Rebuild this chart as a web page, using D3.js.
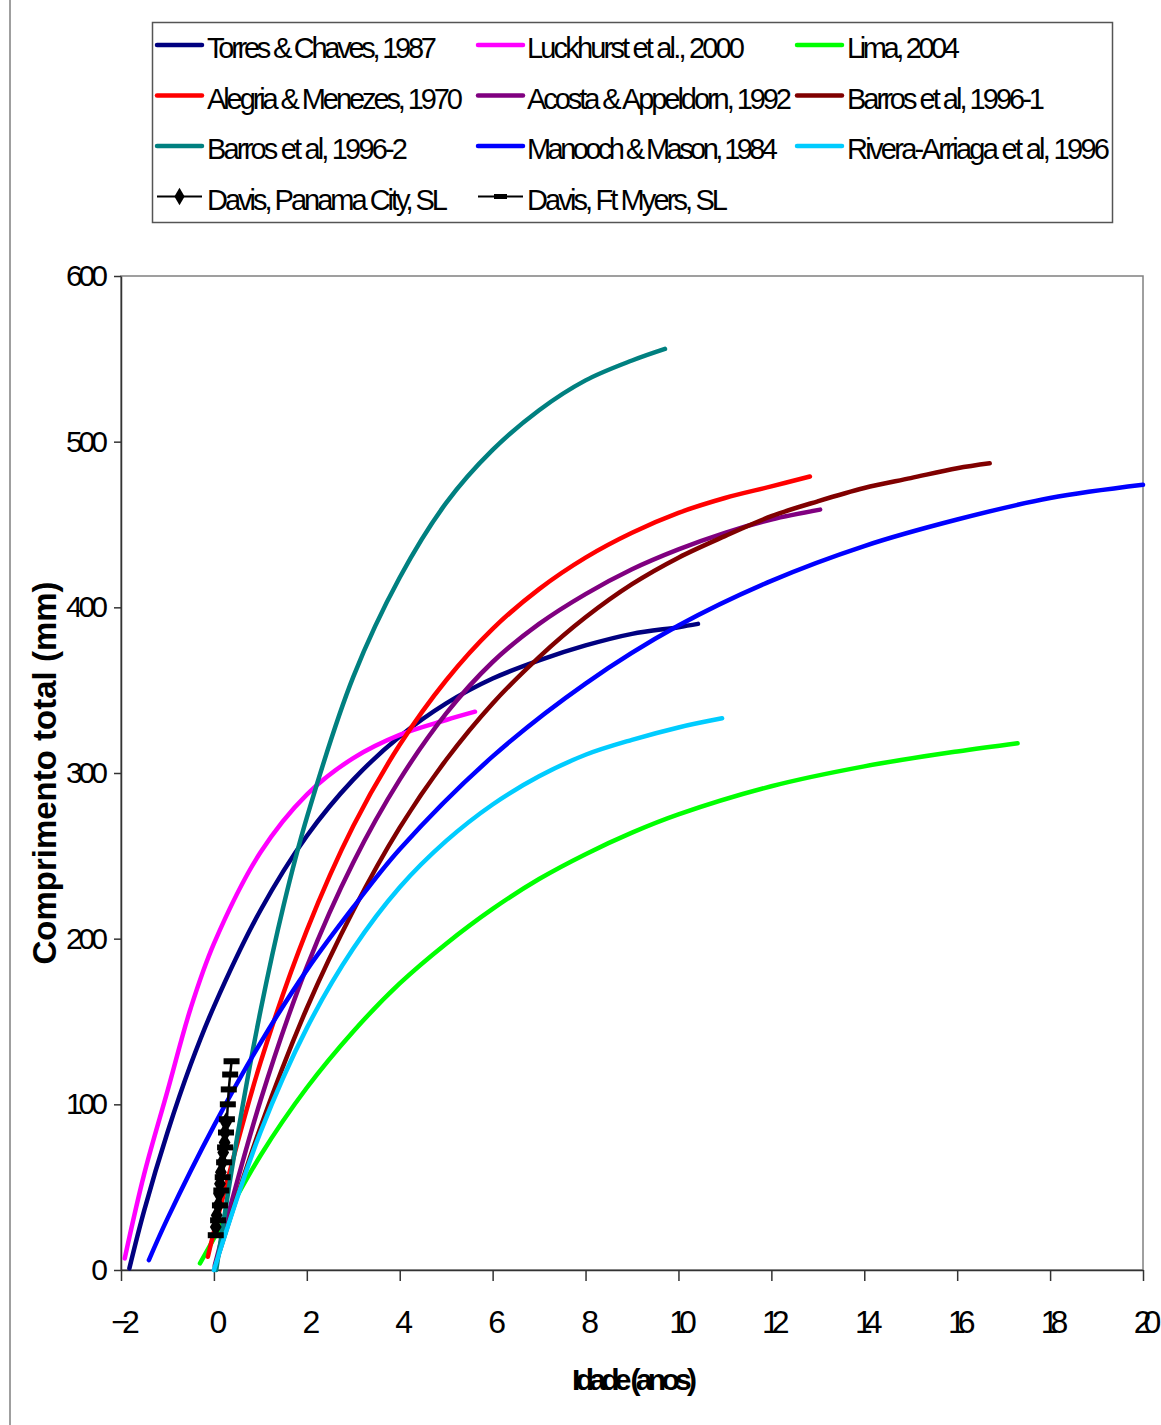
<!DOCTYPE html>
<html>
<head>
<meta charset="utf-8">
<script src="https://cdn.jsdelivr.net/npm/d3@7"></script>
<style>
  body { margin: 0; background: #fff; }
  svg { display: block; font-family: "Liberation Sans", Arial, sans-serif; }
</style>
</head>
<body>
<div id="chart"></div>
<script>
// axis ticks
const xTicks = [-2, 0, 2, 4, 6, 8, 10, 12, 14, 16, 18, 20];
const yTicks = [0, 100, 200, 300, 400, 500, 600];

// legend labels, in legend order (row by row)
const seriesNames = [
  'Torres & Chaves, 1987', 'Luckhurst et al., 2000', 'Lima, 2004',
  'Alegria & Menezes, 1970', 'Acosta & Appeldorn, 1992', 'Barros et al, 1996-1',
  'Barros et al, 1996-2', 'Manooch & Mason, 1984', 'Rivera-Arriaga et al, 1996',
  'Davis, Panama City, SL', 'Davis, Ft Myers, SL'
];
const seriesColors = [
  '#000080', '#FF00FF', '#00FF00',
  '#FF0000', '#800080', '#800000',
  '#008080', '#0000FF', '#00CCFF',
  '#000000', '#000000'
];

// growth curves, [age (anos), comprimento (mm)]
const torresChaves = [[-1.82, 1], [-1.5, 36], [-1, 83], [-0.5, 124], [0, 159], [1, 217], [2, 262], [3, 296], [4, 322], [5, 342], [6, 357], [7, 368], [8, 377], [9, 384], [10, 388], [10.42, 390]];
const luckhurst = [[-1.92, 7], [-1.5, 58], [-1, 108], [-0.5, 158], [0, 197], [1, 252], [2, 287], [3, 309], [4, 323], [5, 332], [5.62, 337]];
const lima = [[-0.3, 4], [0, 19], [1, 69], [2, 110], [3, 144], [4, 173], [5, 197], [6, 218], [7, 236], [8, 251], [9, 264], [10, 275], [12, 292], [14, 304], [16, 313], [17.3, 318]];
const alegriaMenezes = [[-0.13, 8], [0, 23], [1, 125], [2, 205], [3, 268], [4, 317], [5, 356], [6, 387], [7, 411], [8, 430], [9, 445], [10, 457], [11, 466], [12, 473], [12.83, 479]];
const acostaAppeldorn = [[0.02, 3], [1, 102], [2, 183], [3, 246], [4, 296], [5, 336], [6, 367], [7, 390], [8, 408], [9, 423], [10, 435], [11, 445], [12, 453], [13.05, 459]];
const barros1 = [[0.02, 2], [1, 86], [2, 158], [3, 217], [4, 267], [5, 308], [6, 342], [7, 370], [8, 394], [9, 414], [10, 430], [11, 443], [12, 455], [13, 464], [14, 472], [15, 478], [16, 484], [16.7, 487]];
const barros2 = [[0.05, 0], [0.5, 80], [1, 156], [1.5, 220], [2, 273], [3, 358], [4, 418], [5, 463], [6, 495], [7, 519], [8, 537], [9, 549], [9.71, 556]];
const manoochMason = [[-1.4, 6], [-1, 31], [0, 87], [1, 137], [2, 181], [3, 219], [4, 254], [6, 310], [8, 354], [10, 389], [12, 416], [14, 437], [16, 453], [18, 466], [20, 474]];
const riveraArriaga = [[0, 0], [1, 83], [2, 146], [3, 194], [4, 231], [5, 259], [6, 281], [7, 298], [8, 311], [9, 320], [10, 327.5], [10.94, 333]];

// Davis observed points
const davisPanamaCity = [[0.04, 26], [0.06, 33], [0.09, 39], [0.11, 46], [0.13, 52], [0.15, 59], [0.18, 65], [0.2, 71], [0.23, 77], [0.24, 83], [0.26, 89]];
const davisFtMyers = [[0.04, 21], [0.09, 30], [0.13, 39], [0.16, 48], [0.19, 56], [0.22, 65], [0.24, 74], [0.26, 83], [0.28, 91], [0.3, 100], [0.32, 109], [0.35, 118], [0.38, 126]];

const curves = [torresChaves, luckhurst, lima, alegriaMenezes, acostaAppeldorn, barros1, barros2, manoochMason, riveraArriaga];

const W = 1161, H = 1425;
const svg = d3.select('#chart').append('svg')
  .attr('width', W)
  .attr('height', H);

// outer chart frame (only left edge is visible)
svg.append('rect')
  .attr('x', 10).attr('y', -10)
  .attr('width', W + 20).attr('height', H + 20)
  .attr('fill', 'none')
  .attr('stroke', '#808080')
  .attr('stroke-width', 1.5);

const x = d3.scaleLinear().domain([-2, 20]).range([121, 1143]);
const y = d3.scaleLinear().domain([0, 600]).range([1270, 276]);

// plot area border
svg.append('rect')
  .attr('x', x(-2)).attr('y', y(600))
  .attr('width', x(20) - x(-2)).attr('height', y(0) - y(600))
  .attr('fill', 'none')
  .attr('stroke', '#808080')
  .attr('stroke-width', 1.5);

// axes
const xAxis = svg.append('g')
  .attr('transform', `translate(0,${y(0)})`)
  .call(d3.axisBottom(x).tickValues(xTicks).tickSize(11).tickPadding(29).tickSizeOuter(0));
xAxis.selectAll('text')
  .style('font-size', '32px')
  .style('letter-spacing', '-8px')
  .attr('fill', '#000');

const yAxis = svg.append('g')
  .attr('transform', `translate(${x(-2)},0)`)
  .call(d3.axisLeft(y).tickValues(yTicks).tickSize(7).tickPadding(10).tickSizeOuter(0));
yAxis.selectAll('text')
  .style('font-size', '30px')
  .style('letter-spacing', '-4px')
  .attr('fill', '#000');

svg.selectAll('.domain').attr('stroke', '#333').attr('stroke-width', 1.5);
svg.selectAll('.tick line').attr('stroke', '#333').attr('stroke-width', 1.5);

// axis titles
svg.append('text')
  .attr('transform', `translate(56,${(y(0) + y(600)) / 2}) rotate(-90)`)
  .attr('text-anchor', 'middle')
  .style('font-size', '33px')
  .style('font-weight', 'bold')
  .text('Comprimento total (mm)');

svg.append('text')
  .attr('x', 572)
  .attr('y', 1390)
  .attr('textLength', 125)
  .attr('lengthAdjust', 'spacing')
  .style('font-size', '30px')
  .style('font-weight', 'bold')
  .text('Idade (anos)');

// growth curves
const line = d3.line()
  .x(d => x(d[0]))
  .y(d => y(d[1]))
  .curve(d3.curveCatmullRom.alpha(0.5));

svg.append('g')
  .selectAll('path')
  .data(curves)
  .enter().append('path')
  .attr('d', line)
  .attr('fill', 'none')
  .attr('stroke', (d, i) => seriesColors[i])
  .attr('stroke-width', 4.5)
  .attr('stroke-linecap', 'round')
  .attr('stroke-linejoin', 'round');

// Davis data
const straight = d3.line().x(d => x(d[0])).y(d => y(d[1]));

svg.append('path')
  .attr('d', straight(davisPanamaCity))
  .attr('fill', 'none')
  .attr('stroke', '#000')
  .attr('stroke-width', 2.5);

svg.append('g')
  .selectAll('path')
  .data(davisPanamaCity)
  .enter().append('path')
  .attr('transform', d => `translate(${x(d[0])},${y(d[1])})`)
  .attr('d', d3.symbol().type(d3.symbolDiamond).size(120))
  .attr('fill', '#000');

svg.append('path')
  .attr('d', straight(davisFtMyers))
  .attr('fill', 'none')
  .attr('stroke', '#000')
  .attr('stroke-width', 2.5);

svg.append('g')
  .selectAll('rect')
  .data(davisFtMyers)
  .enter().append('rect')
  .attr('x', d => x(d[0]) - 8)
  .attr('y', d => y(d[1]) - 3)
  .attr('width', 16)
  .attr('height', 6)
  .attr('fill', '#000');

// legend
const legend = svg.append('g');
legend.append('rect')
  .attr('x', 152.5).attr('y', 22.5)
  .attr('width', 960).attr('height', 200)
  .attr('fill', '#fff')
  .attr('stroke', '#555')
  .attr('stroke-width', 1.5);

const colLine = [157, 478, 797];
const colText = [207, 527, 847];
const textWidths = [230, 218, 113, 256, 265, 198, 201, 251, 263, 241, 201];

seriesNames.forEach((name, i) => {
  const col = i % 3;
  const row = Math.floor(i / 3);
  const ly = 45 + row * 50.5;
  const g = legend.append('g');
  g.append('line')
    .attr('x1', colLine[col]).attr('x2', colLine[col] + 45)
    .attr('y1', ly).attr('y2', ly)
    .attr('stroke', seriesColors[i])
    .attr('stroke-width', i < 9 ? 4.5 : 2)
    .attr('stroke-linecap', i < 9 ? 'round' : 'butt');
  if (i === 9) {
    g.append('path')
      .attr('transform', `translate(${colLine[col] + 22.5},${ly})`)
      .attr('d', d3.symbol().type(d3.symbolDiamond).size(90))
      .attr('fill', '#000');
  }
  if (i === 10) {
    g.append('rect')
      .attr('x', colLine[col] + 16).attr('y', ly - 2.5)
      .attr('width', 13).attr('height', 5)
      .attr('fill', '#000');
  }
  g.append('text')
    .attr('x', colText[col])
    .attr('y', ly + 13)
    .attr('textLength', textWidths[i])
    .attr('lengthAdjust', 'spacing')
    .style('font-size', '29px')
    .text(name);
});
</script>
</body>
</html>
